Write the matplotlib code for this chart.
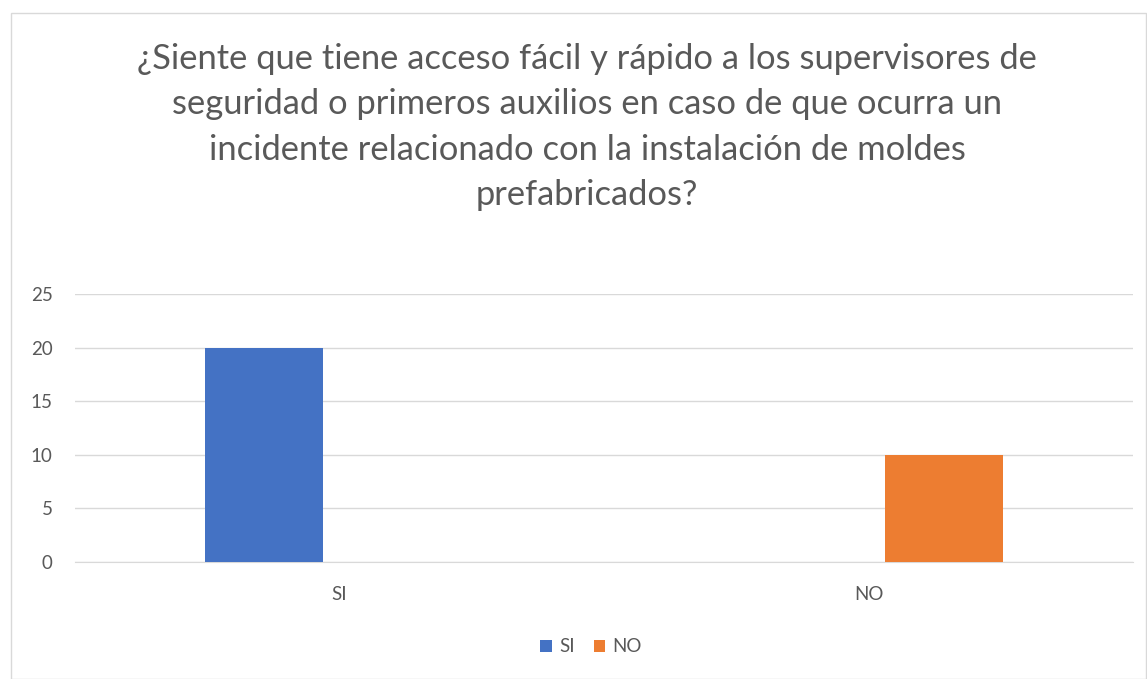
import matplotlib
matplotlib.use("Agg")
import matplotlib.pyplot as plt
from matplotlib.patches import Rectangle, Patch
import numpy as np

categories = ["SI", "NO"]
series_names = ["SI", "NO"]
series_values = {"SI": [20, 0], "NO": [0, 10]}
colors = {"SI": "#4472C4", "NO": "#ED7D31"}
yticks = [0, 5, 10, 15, 20, 25]
title = ("¿Siente que tiene acceso fácil y rápido a los supervisores de\n"
         "seguridad o primeros auxilios en caso de que ocurra un\n"
         "incidente relacionado con la instalación de moldes\n"
         "prefabricados?")

plt.rcParams['font.family'] = ['Lato', 'DejaVu Sans']

W, H = 1147, 679
fig = plt.figure(figsize=(W / 100, H / 100), dpi=100)
fig.patch.set_facecolor("white")

# chart frame
fig.patches.append(Rectangle((11 / W, 0), (W - 11 - 1) / W, (H - 13) / H,
                             transform=fig.transFigure, fill=False,
                             edgecolor="#d9d9d9", linewidth=1.0))

ax = fig.add_axes([75 / W, 117 / H, (1133 - 75) / W, (562 - 294) / H])
x = np.arange(len(categories))
width = 0.223
offsets = [-0.142, 0.142]
for name, off in zip(series_names, offsets):
    ax.bar(x + off, series_values[name], width, color=colors[name], label=name, zorder=3)

ax.set_xlim(-0.5, len(categories) - 0.5)
ax.set_ylim(0, 25)
ax.set_yticks(yticks)
ax.set_yticklabels([str(t) for t in yticks])
ax.set_xticks(x)
ax.set_xticklabels(categories)
ax.grid(axis="y", color="#d9d9d9", linewidth=1.0, zorder=0)
for s in ax.spines.values():
    s.set_visible(False)
ax.spines["bottom"].set_visible(True)
ax.spines["bottom"].set_color("#d9d9d9")
ax.tick_params(axis="both", length=0, colors="#595959", labelsize=13.5)
ax.tick_params(axis="y", pad=16)
ax.tick_params(axis="x", pad=17)

fig.text(587 / W, 1 - 127 / H, title, ha="center", va="center", fontsize=24.8,
         color="#595959", linespacing=1.52)

handles = [Patch(facecolor=colors[n], label=n) for n in series_names]
fig.legend(handles=handles, loc="center", bbox_to_anchor=(591 / W, 1 - 647 / H),
           ncol=2, frameon=False, fontsize=13.5, handlelength=0.6, handleheight=0.6,
           handletextpad=0.4, columnspacing=1.0, labelcolor="#595959")

fig.savefig("out.png", dpi=100)
